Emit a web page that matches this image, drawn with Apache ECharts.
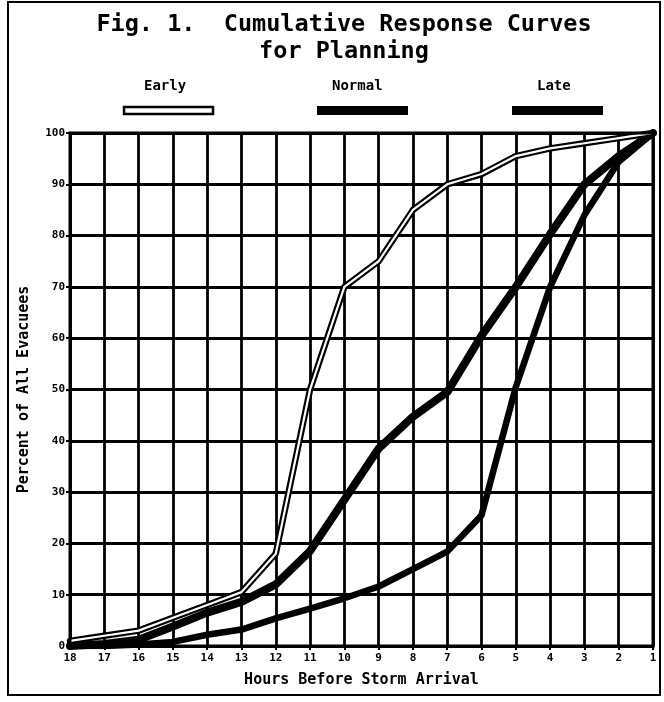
<!DOCTYPE html>
<html>
<head>
<meta charset="utf-8">
<script src="https://cdn.jsdelivr.net/npm/echarts@6/dist/echarts.min.js"></script>
<style>
  html, body { margin: 0; padding: 0; background: #fff; }
  #chart { width: 664px; height: 702px; }
</style>
</head>
<body>
<div id="chart"></div>
<script>
// Hours before storm arrival (x) and cumulative percent of evacuees (y)
const hours = [18, 17, 16, 15, 14, 13, 12, 11, 10, 9, 8, 7, 6, 5, 4, 3, 2, 1];
const earlyPct  = [1, 2, 3, 5.5, 8, 10.5, 18, 50, 70, 75, 85, 90, 92, 95.5, 97, 98, 99, 100];
const normalPct = [0, 0.4, 1.2, 3.8, 6.5, 8.6, 12, 18.5, 28.5, 38.5, 44.7, 49.5, 60.5, 70, 80.3, 90, 95.5, 100];
const latePct   = [0, 0, 0.3, 0.8, 2.2, 3.2, 5.4, 7.3, 9.3, 11.6, 15, 18.4, 25.5, 50.5, 70, 84, 94.4, 100];
const yTicks = [0, 10, 20, 30, 40, 50, 60, 70, 80, 90, 100];
const seriesNames = ['Early', 'Normal', 'Late'];

const pair = (vals) => hours.map((h, i) => [h, vals[i]]);
const FONT = '"DejaVu Sans Mono", monospace';

const chart = echarts.init(document.getElementById('chart'), null, { renderer: 'canvas' });

chart.setOption({
  backgroundColor: '#ffffff',
  animation: false,
  title: [{
    text: 'Fig. 1.  Cumulative Response Curves\nfor Planning',
    left: 339, top: 6, textAlign: 'center',
    textStyle: { fontFamily: FONT, fontSize: 23.5, fontWeight: 'bold', color: '#000', lineHeight: 27 }
  }],
  grid: { left: 70, right: 11, top: 133, bottom: 56 },
  xAxis: {
    type: 'value', inverse: true, min: 1, max: 18, interval: 1,
    name: 'Hours Before Storm Arrival', nameLocation: 'middle', nameGap: 27,
    nameTextStyle: { fontFamily: FONT, fontSize: 15, fontWeight: 'bold', color: '#000' },
    axisLine: { lineStyle: { color: '#000', width: 3 } },
    axisTick: { show: true, length: 4, lineStyle: { color: '#000', width: 2 } },
    axisLabel: { fontFamily: FONT, fontSize: 11, fontWeight: 'bold', color: '#000', margin: 7 },
    splitLine: { show: true, lineStyle: { color: '#000', width: 2.8 } }
  },
  yAxis: {
    type: 'value', min: 0, max: 100, interval: 10,
    name: 'Percent of All Evacuees', nameLocation: 'middle', nameGap: 38,
    nameTextStyle: { fontFamily: FONT, fontSize: 15, fontWeight: 'bold', color: '#000' },
    axisLine: { show: true, lineStyle: { color: '#000', width: 3 } },
    axisTick: { show: true, length: 4, lineStyle: { color: '#000', width: 2 } },
    axisLabel: {
      fontFamily: FONT, fontSize: 11, fontWeight: 'bold', color: '#000', margin: 5,
      formatter: (v) => (yTicks.includes(v) ? String(v) : '')
    },
    splitLine: { show: true, lineStyle: { color: '#000', width: 2.8 } }
  },
  graphic: [
    // outer frame around the figure
    { type: 'rect', shape: { x: 8, y: 2, width: 652, height: 693 },
      style: { fill: 'none', stroke: '#000', lineWidth: 2 }, z: 100 },
    // plot border
    { type: 'rect', shape: { x: 70, y: 133, width: 583, height: 513 },
      style: { fill: 'none', stroke: '#000', lineWidth: 3 }, z: 100 },
    // key: names above swatches
    { type: 'text', left: 144, top: 79, style: { text: seriesNames[0], font: 'bold 14px "DejaVu Sans Mono"', fill: '#000' } },
    { type: 'text', left: 332, top: 79, style: { text: seriesNames[1], font: 'bold 14px "DejaVu Sans Mono"', fill: '#000' } },
    { type: 'text', left: 537, top: 79, style: { text: seriesNames[2], font: 'bold 14px "DejaVu Sans Mono"', fill: '#000' } },
    { type: 'rect', shape: { x: 124, y: 107, width: 89, height: 7 },
      style: { fill: '#fff', stroke: '#000', lineWidth: 2.5 } },
    { type: 'rect', shape: { x: 317, y: 106, width: 91, height: 9 },
      style: { fill: '#000' } },
    { type: 'rect', shape: { x: 512, y: 106, width: 91, height: 9 },
      style: { fill: '#000' } }
  ],
  series: [
    { name: 'Late', type: 'line', data: pair(latePct), symbol: 'none', z: 3,
      lineStyle: { color: '#000', width: 6.5, join: 'round', cap: 'round' } },
    { name: 'Normal', type: 'line', data: pair(normalPct), symbol: 'none', z: 4,
      lineStyle: { color: '#000', width: 8, join: 'round', cap: 'round' } },
    { name: 'Early', type: 'line', data: pair(earlyPct), symbol: 'none', z: 5,
      lineStyle: { color: '#000', width: 6.5, join: 'round', cap: 'round' } },
    { name: 'Early (inner)', type: 'line', data: pair(earlyPct), symbol: 'none', z: 6,
      lineStyle: { color: '#fff', width: 2.2, join: 'round', cap: 'round' } }
  ]
});
</script>
</body>
</html>
